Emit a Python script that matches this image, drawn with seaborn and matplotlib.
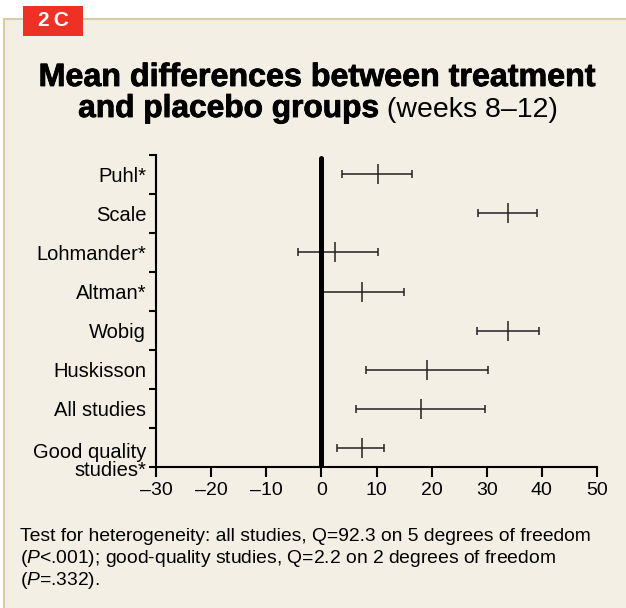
import numpy as np
import pandas as pd
import matplotlib
matplotlib.use('Agg')
import matplotlib.pyplot as plt
import matplotlib.transforms as mtransforms
import matplotlib.patheffects as pe
from matplotlib.patches import Rectangle
import seaborn as sns

# data
studies = ['Puhl*', 'Scale', 'Lohmander*', 'Altman*', 'Wobig',
           'Huskisson', 'All studies', 'Good quality\nstudies*']
mean_diff = [10.2, 33.8, 2.4, 7.3, 33.8, 19.2, 18.0, 7.3]
ci_low = [3.7, 28.5, -4.3, 0.0, 28.3, 8.1, 6.2, 2.9]
ci_high = [16.5, 39.2, 10.2, 15.0, 39.4, 30.3, 29.7, 11.4]
x_ticks = [-30, -20, -10, 0, 10, 20, 30, 40, 50]

footer = ['Test for heterogeneity: all studies, Q=92.3 on 5 degrees of freedom',
          '($P$<.001); good-quality studies, Q=2.2 on 2 degrees of freedom',
          '($P$=.332).']

PANEL = '#F3EFE4'
BORDER = '#D9CBA3'
RED = '#EE3124'
BAR = '#222222'

df = pd.DataFrame({'study': studies, 'mean': mean_diff,
                   'low': ci_low, 'high': ci_high})
df['pos'] = np.arange(len(df)) + 0.5

sns.set_theme(style='ticks')
plt.rcParams['font.family'] = ['Liberation Sans', 'DejaVu Sans']
plt.rcParams['mathtext.fontset'] = 'custom'
plt.rcParams['mathtext.rm'] = 'Liberation Sans'
plt.rcParams['mathtext.it'] = 'Liberation Sans:italic'
plt.rcParams['text.color'] = 'black'
plt.rcParams['xtick.color'] = 'black'
plt.rcParams['ytick.color'] = 'black'
plt.rcParams['xtick.labelcolor'] = 'black'
plt.rcParams['ytick.labelcolor'] = 'black'

W, H = 626, 608
fig = plt.figure(figsize=(W / 100, H / 100), dpi=100)
fig.patch.set_facecolor('white')

# beige panel with tan border on top/left
fig.add_artist(Rectangle((4 / W, -0.1), 1.1, 0.1 + 589 / H,
                         transform=fig.transFigure, facecolor=PANEL,
                         edgecolor=BORDER, lw=1.5, zorder=0))
# red "2C" tag
fig.add_artist(Rectangle((23 / W, 1 - 36 / H), 60 / W, 30 / H,
                         transform=fig.transFigure, facecolor=RED,
                         edgecolor='none', zorder=1))
fig.text(53 / W, 1 - 21 / H, '2\u2009C', color='white', fontsize=15,
         fontweight='bold', ha='center', va='center')

# title (heavy look = bold + thin stroke)
heavy = [pe.withStroke(linewidth=0.6, foreground='black')]
fig.text(318 / W, 1 - 86 / H, 'Mean differences between treatment',
         ha='center', va='baseline', fontsize=23.2, fontweight='bold',
         path_effects=heavy)
t1 = fig.text(0, 1 - 117 / H, 'and placebo groups', va='baseline',
              fontsize=22.8, fontweight='bold', path_effects=heavy)
t2 = fig.text(0, 1 - 117 / H, ' (weeks 8\u201312)', va='baseline',
              fontsize=20.5)
r = fig.canvas.get_renderer()
w1 = t1.get_window_extent(r).width
w2 = t2.get_window_extent(r).width
x0 = 318 - (w1 + w2) / 2
t1.set_x(x0 / W)
t2.set_x((x0 + w1) / W)

# axes
ax = fig.add_axes([156 / W, 141 / H, 441 / W, 312 / H])
ax.set_facecolor('none')

ax.errorbar(df['mean'], df['pos'],
            xerr=[df['mean'] - df['low'], df['high'] - df['mean']],
            fmt='none', ecolor=BAR, elinewidth=1.1, capsize=2.9, capthick=1.1)
sns.scatterplot(data=df, x='mean', y='pos', marker='|', s=14 ** 2,
                color=BAR, linewidth=1.1, ax=ax, zorder=3)
ax.axvline(0, ymin=0, ymax=0.99, color='black', lw=3.6, zorder=4)

ax.set_xlim(-30, 50)
ax.set_ylim(len(df), 0)
ax.set_xticks(x_ticks)
ax.set_xticklabels([str(v).replace('-', '\u2013') for v in x_ticks])
ax.set_yticks(np.arange(len(df) + 1))
ax.set_yticklabels([])
ax.set_yticks(df['pos'], minor=True)
ax.set_yticklabels(df['study'], minor=True)
ax.set_xlabel('')
ax.set_ylabel('')

for s in ['top', 'right']:
    ax.spines[s].set_visible(False)
for s in ['left', 'bottom']:
    ax.spines[s].set_linewidth(1.5)
    ax.spines[s].set_color('black')

ax.tick_params(axis='x', which='major', direction='out', length=7, width=1.5,
               color='black', labelcolor='black', labelsize=14, pad=4)
ax.tick_params(axis='y', which='major', direction='out', length=5, width=1.5,
               color='black')
ax.tick_params(axis='y', which='minor', length=0, labelsize=14.5, pad=7,
               labelcolor='black')

last = ax.get_yticklabels(minor=True)[-1]
last.set_linespacing(0.95)
last.set_transform(last.get_transform() +
                   mtransforms.ScaledTranslation(0, -0.12, fig.dpi_scale_trans))

# footer note
for i, line in enumerate(footer):
    fig.text(20 / W, 1 - (541 + 22 * i) / H, line, fontsize=13.9,
             va='baseline', ha='left')

fig.savefig('out.png', dpi=100)
